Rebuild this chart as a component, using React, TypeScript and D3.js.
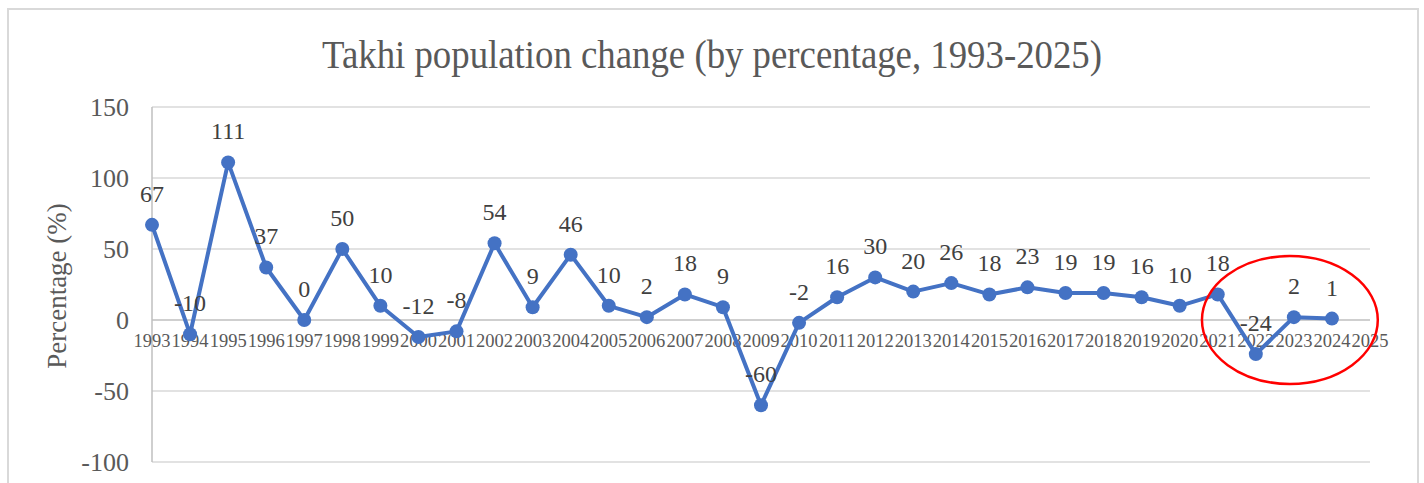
import React from "react";
import * as d3 from "d3";

const years: string[] = [
  "1993","1994","1995","1996","1997","1998","1999","2000","2001","2002","2003",
  "2004","2005","2006","2007","2008","2009","2010","2011","2012","2013","2014",
  "2015","2016","2017","2018","2019","2020","2021","2022","2023","2024","2025",
];
const values: number[] = [
  67, -10, 111, 37, 0, 50, 10, -12, -8, 54, 9, 46, 10, 2, 18, 9, -60, -2, 16, 30,
  20, 26, 18, 23, 19, 19, 16, 10, 18, -24, 2, 1,
];
const yTicks: number[] = [150, 100, 50, 0, -50, -100];
const title = "Takhi population change (by percentage, 1993-2025)";
const yAxisTitle = "Percentage (%)";
const highlightYear = "2023";

const W = 1424;
const H = 483;
const FONT = "'Liberation Serif', 'Times New Roman', serif";
const TEXT = "#595959";
const BLUE = "#4472C4";

export default function App() {
  const x = d3.scalePoint<string>().domain(years).range([152, 1370]);
  const y = d3.scaleLinear().domain([-100, 150]).range([462, 107]);
  const step = x.step();
  const pts = values.map((v, i) => [x(years[i]) as number, y(v)] as [number, number]);
  const line = d3.line<[number, number]>().x((d) => d[0]).y((d) => d[1]);

  const hx = (x(highlightYear) as number) - 4;
  const hy = y(0);
  const rx = step * 2.31;
  const ry = y(-45) - y(0);

  return (
    <svg
      width={W}
      height={H}
      style={{ position: "absolute", left: 0, top: 0, background: "#fff" }}
      fontFamily={FONT}
    >
      <rect x={0} y={0} width={W} height={H} fill="#fff" />
      <rect x={8} y={9} width={1410} height={H + 20} fill="none" stroke="#d9d9d9" strokeWidth={2} />
      <text
        x={W / 2}
        y={68}
        textAnchor="middle"
        fontSize={40}
        fill={TEXT}
        textLength={780}
        lengthAdjust="spacingAndGlyphs"
      >
        {title}
      </text>
      {/* gridlines */}
      {yTicks.map((t) => (
        <line
          key={"g" + t}
          x1={152}
          x2={1370}
          y1={y(t)}
          y2={y(t)}
          stroke={t === 0 ? "#bfbfbf" : "#d9d9d9"}
          strokeWidth={1.5}
        />
      ))}
      <line x1={152} x2={152} y1={y(150)} y2={y(-100)} stroke="#bfbfbf" strokeWidth={1.5} />
      {yTicks.map((t) => (
        <text key={"t" + t} x={129} y={y(t) + 9} textAnchor="end" fontSize={26} fill={TEXT}>
          {t}
        </text>
      ))}
      <text
        transform={`translate(66,286) rotate(-90)`}
        textAnchor="middle"
        fontSize={27}
        fill={TEXT}
      >
        {yAxisTitle}
      </text>
      {years.map((yr) => (
        <text key={"c" + yr} x={x(yr) as number} y={y(0) + 27} textAnchor="middle" fontSize={18.5} fill={TEXT}>
          {yr}
        </text>
      ))}
      <path d={line(pts) || ""} fill="none" stroke={BLUE} strokeWidth={4} strokeLinejoin="round" />
      {pts.map((p, i) => (
        <circle key={"p" + i} cx={p[0]} cy={p[1]} r={7} fill={BLUE} />
      ))}
      {pts.map((p, i) => (
        <text key={"l" + i} x={p[0]} y={p[1] - 23} textAnchor="middle" fontSize={24} fill="#404040">
          {values[i]}
        </text>
      ))}
      <ellipse cx={hx} cy={hy} rx={rx} ry={ry} fill="none" stroke="#ff0000" strokeWidth={2.5} />
    </svg>
  );
}
